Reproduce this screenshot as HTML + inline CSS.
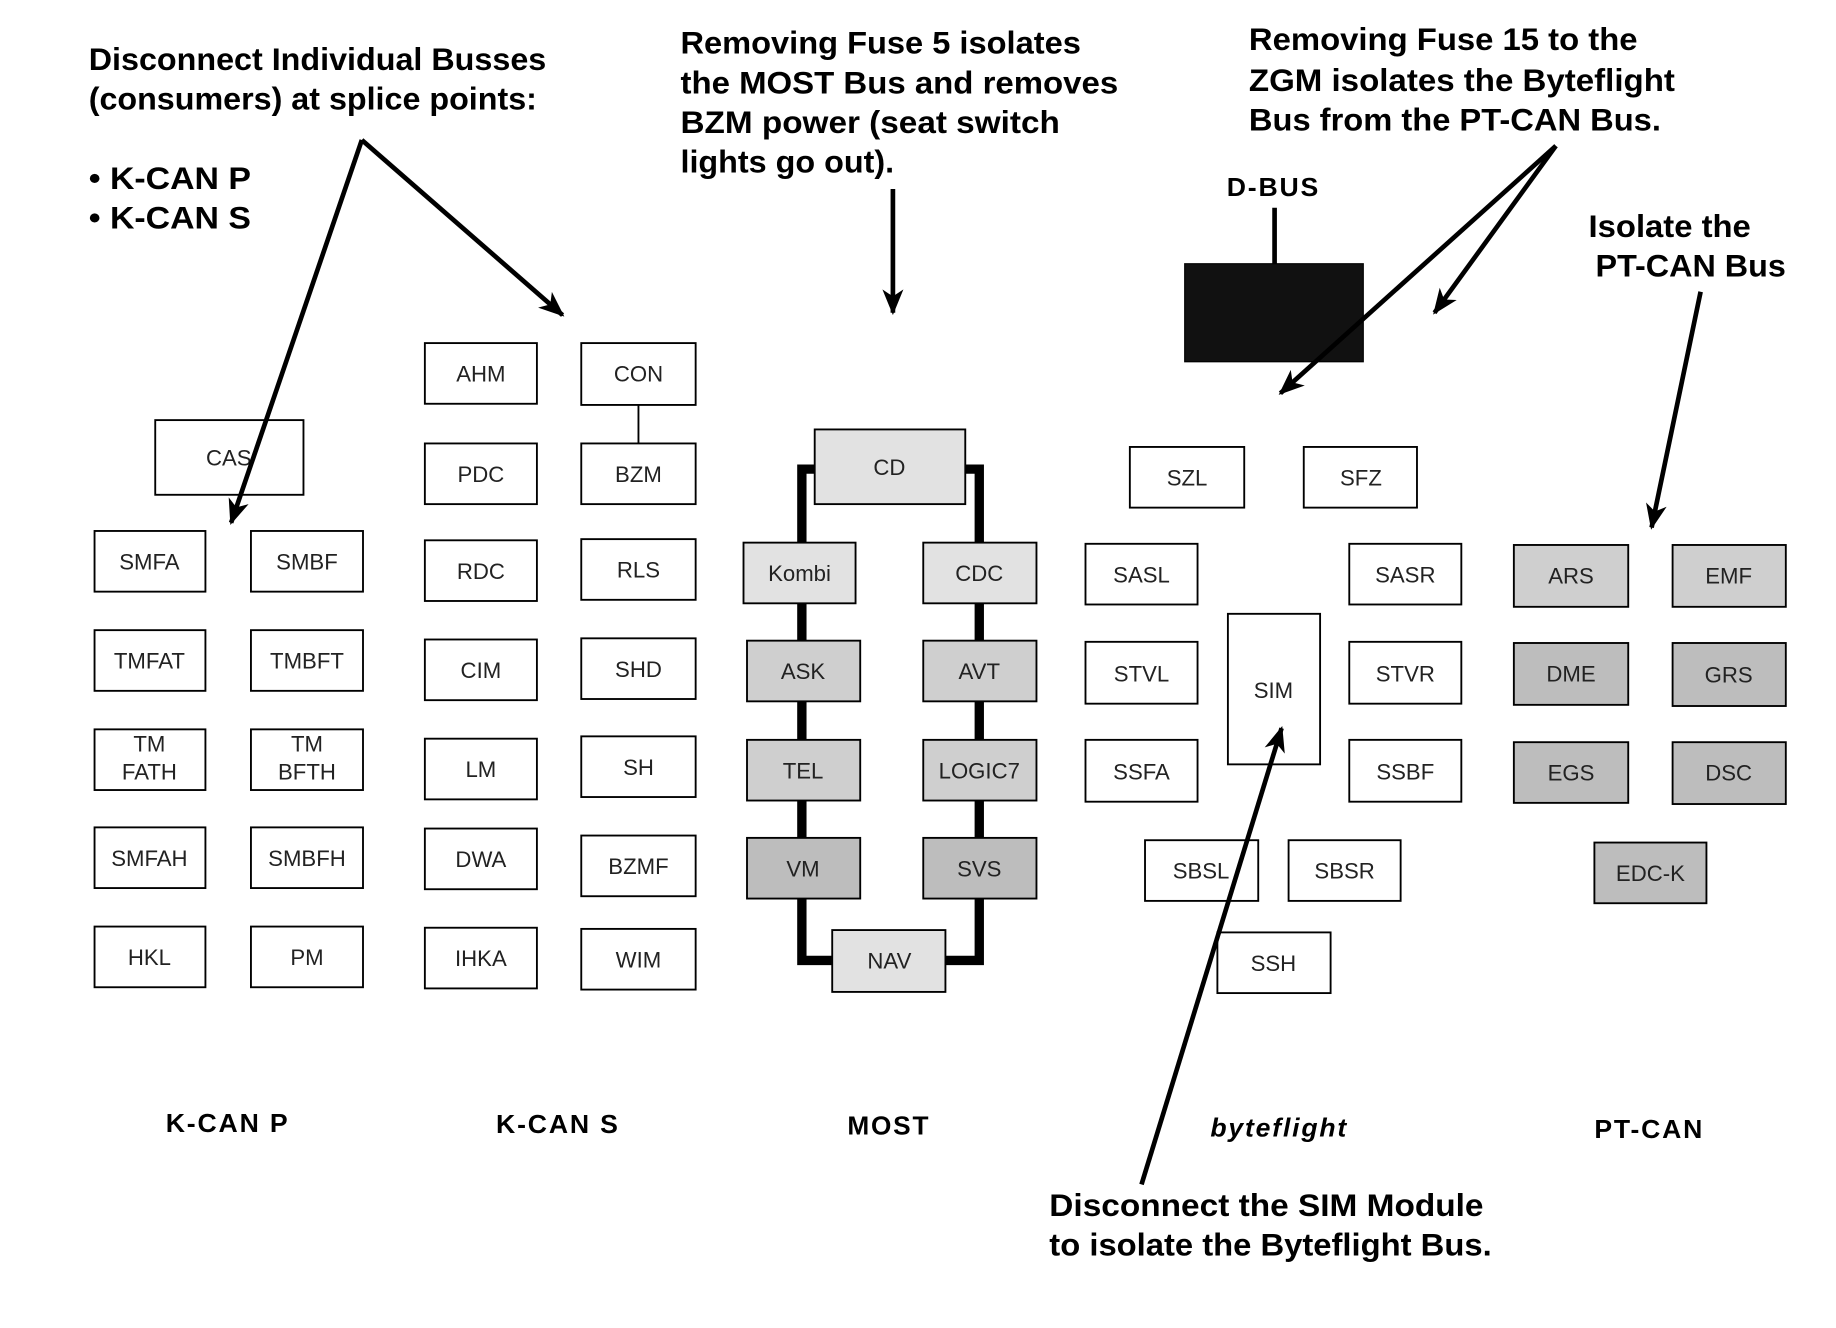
<!DOCTYPE html>
<html><head><meta charset="utf-8"><style>
html,body{margin:0;padding:0;background:#fff}
svg{display:block}
text{font-family:"Liberation Sans",sans-serif}
.a{font-weight:bold;font-size:27px;fill:#000}
.l{font-weight:bold;font-size:22px;letter-spacing:1.5px}
.b{fill:#fff;stroke:#000;stroke-width:1.6}
.g1{fill:#e2e2e2;stroke:#000;stroke-width:1.6}
.g2{fill:#cfcfcf;stroke:#000;stroke-width:1.6}
.g3{fill:#bdbdbd;stroke:#000;stroke-width:1.6}
.t{font-size:19px;text-anchor:middle;fill:#222}
</style></head><body>
<svg width="1836" height="1328" viewBox="0 0 1573 1138" preserveAspectRatio="none" xmlns="http://www.w3.org/2000/svg">
<defs>
<marker id="ah" markerWidth="22" markerHeight="22" refX="20" refY="11" orient="auto" markerUnits="userSpaceOnUse"><path d="M0,2 L22,11 L0,20 L6,11 z" fill="#000"/></marker></defs>

<text class="a" x="76" y="60" textLength="392" lengthAdjust="spacingAndGlyphs">Disconnect Individual Busses</text>
<text class="a" x="76" y="94" textLength="384" lengthAdjust="spacingAndGlyphs">(consumers) at splice points:</text>
<text class="a" x="76" y="162" textLength="139" lengthAdjust="spacingAndGlyphs">• K-CAN P</text>
<text class="a" x="76" y="196" textLength="139" lengthAdjust="spacingAndGlyphs">• K-CAN S</text>
<text class="a" x="583" y="46" textLength="343" lengthAdjust="spacingAndGlyphs">Removing Fuse 5 isolates</text>
<text class="a" x="583" y="80" textLength="375" lengthAdjust="spacingAndGlyphs">the MOST Bus and removes</text>
<text class="a" x="583" y="114" textLength="325" lengthAdjust="spacingAndGlyphs">BZM power (seat switch</text>
<text class="a" x="583" y="148" textLength="183" lengthAdjust="spacingAndGlyphs">lights go out).</text>
<text class="a" x="1070" y="43" textLength="333" lengthAdjust="spacingAndGlyphs">Removing Fuse 15 to the</text>
<text class="a" x="1070" y="78" textLength="365" lengthAdjust="spacingAndGlyphs">ZGM isolates the Byteflight</text>
<text class="a" x="1070" y="112" textLength="353" lengthAdjust="spacingAndGlyphs">Bus from the PT-CAN Bus.</text>
<text class="a" x="1361" y="203" textLength="139" lengthAdjust="spacingAndGlyphs">Isolate the</text>
<text class="a" x="1367" y="237" textLength="163" lengthAdjust="spacingAndGlyphs">PT-CAN Bus</text>
<text class="a" x="899" y="1042" textLength="372" lengthAdjust="spacingAndGlyphs">Disconnect the SIM Module</text>
<text class="a" x="899" y="1076" textLength="379" lengthAdjust="spacingAndGlyphs">to isolate the Byteflight Bus.</text>
<text class="l" x="1051" y="168" textLength="80" lengthAdjust="spacingAndGlyphs">D-BUS</text>

<text class="l" x="142" y="970" textLength="106" lengthAdjust="spacingAndGlyphs">K-CAN P</text>
<text class="l" x="425" y="971" textLength="106" lengthAdjust="spacingAndGlyphs">K-CAN S</text>
<text class="l" x="726" y="972" textLength="71" lengthAdjust="spacingAndGlyphs">MOST</text>
<text class="l" x="1037" y="974" font-style="italic" textLength="118" lengthAdjust="spacingAndGlyphs">byteflight</text>
<text class="l" x="1366" y="975" textLength="94" lengthAdjust="spacingAndGlyphs">PT-CAN</text>

<g>
<rect class="b" x="133" y="360" width="127" height="64"/><text class="t" x="196" y="399" font-size="22">CAS</text>
<rect class="b" x="81" y="455" width="95" height="52"/><text class="t" x="128" y="488">SMFA</text>
<rect class="b" x="215" y="455" width="96" height="52"/><text class="t" x="263" y="488">SMBF</text>
<rect class="b" x="81" y="540" width="95" height="52"/><text class="t" x="128" y="573">TMFAT</text>
<rect class="b" x="215" y="540" width="96" height="52"/><text class="t" x="263" y="573">TMBFT</text>
<rect class="b" x="81" y="625" width="95" height="52"/><text class="t" x="128" y="644">TM</text><text class="t" x="128" y="668">FATH</text>
<rect class="b" x="215" y="625" width="96" height="52"/><text class="t" x="263" y="644">TM</text><text class="t" x="263" y="668">BFTH</text>
<rect class="b" x="81" y="709" width="95" height="52"/><text class="t" x="128" y="742">SMFAH</text>
<rect class="b" x="215" y="709" width="96" height="52"/><text class="t" x="263" y="742">SMBFH</text>
<rect class="b" x="81" y="794" width="95" height="52"/><text class="t" x="128" y="827">HKL</text>
<rect class="b" x="215" y="794" width="96" height="52"/><text class="t" x="263" y="827">PM</text>
</g>
<g>
<line x1="547" y1="347" x2="547" y2="380" stroke="#000" stroke-width="1.6"/>
<rect class="b" x="364" y="294" width="96" height="52"/><text class="t" x="412" y="327">AHM</text>
<rect class="b" x="364" y="380" width="96" height="52"/><text class="t" x="412" y="413">PDC</text>
<rect class="b" x="364" y="463" width="96" height="52"/><text class="t" x="412" y="496">RDC</text>
<rect class="b" x="364" y="548" width="96" height="52"/><text class="t" x="412" y="581">CIM</text>
<rect class="b" x="364" y="633" width="96" height="52"/><text class="t" x="412" y="666">LM</text>
<rect class="b" x="364" y="710" width="96" height="52"/><text class="t" x="412" y="743">DWA</text>
<rect class="b" x="364" y="795" width="96" height="52"/><text class="t" x="412" y="828">IHKA</text>
<rect class="b" x="498" y="294" width="98" height="53"/><text class="t" x="547" y="327">CON</text>
<rect class="b" x="498" y="380" width="98" height="52"/><text class="t" x="547" y="413">BZM</text>
<rect class="b" x="498" y="462" width="98" height="52"/><text class="t" x="547" y="495">RLS</text>
<rect class="b" x="498" y="547" width="98" height="52"/><text class="t" x="547" y="580">SHD</text>
<rect class="b" x="498" y="631" width="98" height="52"/><text class="t" x="547" y="664">SH</text>
<rect class="b" x="498" y="716" width="98" height="52"/><text class="t" x="547" y="749">BZMF</text>
<rect class="b" x="498" y="796" width="98" height="52"/><text class="t" x="547" y="829">WIM</text>
</g>
<g>
<path d="M698 402 H687 V823 H713 M827 402 H839 V823 H810" fill="none" stroke="#000" stroke-width="8"/>
<rect class="g1" x="698" y="368" width="129" height="64"/><text class="t" x="762" y="407" font-size="22">CD</text>
<rect class="g1" x="637" y="465" width="96" height="52"/><text class="t" x="685" y="498">Kombi</text>
<rect class="g1" x="791" y="465" width="97" height="52"/><text class="t" x="839" y="498">CDC</text>
<rect class="g2" x="640" y="549" width="97" height="52"/><text class="t" x="688" y="582">ASK</text>
<rect class="g2" x="791" y="549" width="97" height="52"/><text class="t" x="839" y="582">AVT</text>
<rect class="g2" x="640" y="634" width="97" height="52"/><text class="t" x="688" y="667">TEL</text>
<rect class="g2" x="791" y="634" width="97" height="52"/><text class="t" x="839" y="667">LOGIC7</text>
<rect class="g3" x="640" y="718" width="97" height="52"/><text class="t" x="688" y="751">VM</text>
<rect class="g3" x="791" y="718" width="97" height="52"/><text class="t" x="839" y="751">SVS</text>
<rect class="g1" x="713" y="797" width="97" height="53"/><text class="t" x="762" y="830">NAV</text>
</g>
<g>
<line x1="1092" y1="178" x2="1092" y2="226" stroke="#000" stroke-width="4"/>
<rect x="1015" y="226" width="153" height="84" fill="#111" stroke="#000"/>
<rect class="b" x="968" y="383" width="98" height="52"/><text class="t" x="1017" y="416">SZL</text>
<rect class="b" x="1117" y="383" width="97" height="52"/><text class="t" x="1166" y="416">SFZ</text>
<rect class="b" x="930" y="466" width="96" height="52"/><text class="t" x="978" y="499">SASL</text>
<rect class="b" x="1156" y="466" width="96" height="52"/><text class="t" x="1204" y="499">SASR</text>
<rect class="b" x="930" y="550" width="96" height="53"/><text class="t" x="978" y="584">STVL</text>
<rect class="b" x="1156" y="550" width="96" height="53"/><text class="t" x="1204" y="584">STVR</text>
<rect class="b" x="930" y="634" width="96" height="53"/><text class="t" x="978" y="668">SSFA</text>
<rect class="b" x="1156" y="634" width="96" height="53"/><text class="t" x="1204" y="668">SSBF</text>
<rect class="b" x="1052" y="526" width="79" height="129"/><text class="t" x="1091" y="598" font-size="22">SIM</text>
<rect class="b" x="981" y="720" width="97" height="52"/><text class="t" x="1029" y="753">SBSL</text>
<rect class="b" x="1104" y="720" width="96" height="52"/><text class="t" x="1152" y="753">SBSR</text>
<rect class="b" x="1043" y="799" width="97" height="52"/><text class="t" x="1091" y="832">SSH</text>
</g>
<g>
<rect class="g2" x="1297" y="467" width="98" height="53"/><text class="t" x="1346" y="500">ARS</text>
<rect class="g2" x="1433" y="467" width="97" height="53"/><text class="t" x="1481" y="500">EMF</text>
<rect class="g3" x="1297" y="551" width="98" height="53"/><text class="t" x="1346" y="584">DME</text>
<rect class="g3" x="1433" y="551" width="97" height="54"/><text class="t" x="1481" y="585">GRS</text>
<rect class="g3" x="1297" y="636" width="98" height="52"/><text class="t" x="1346" y="669">EGS</text>
<rect class="g3" x="1433" y="636" width="97" height="53"/><text class="t" x="1481" y="669">DSC</text>
<rect class="g3" x="1366" y="722" width="96" height="52"/><text class="t" x="1414" y="755">EDC-K</text>
</g>
<g stroke="#000" stroke-width="4" fill="none" marker-end="url(#ah)">
<line x1="310" y1="120" x2="198" y2="448"/>
<line x1="310" y1="120" x2="482" y2="270"/>
<line x1="765" y1="162" x2="765" y2="268"/>
<line x1="1333" y1="125" x2="1097" y2="337"/>
<line x1="1333" y1="125" x2="1229" y2="268"/>
<line x1="1457" y1="250" x2="1415" y2="452"/>
<line x1="978" y1="1015" x2="1098" y2="624"/>
</g>
</svg>
</body></html>
